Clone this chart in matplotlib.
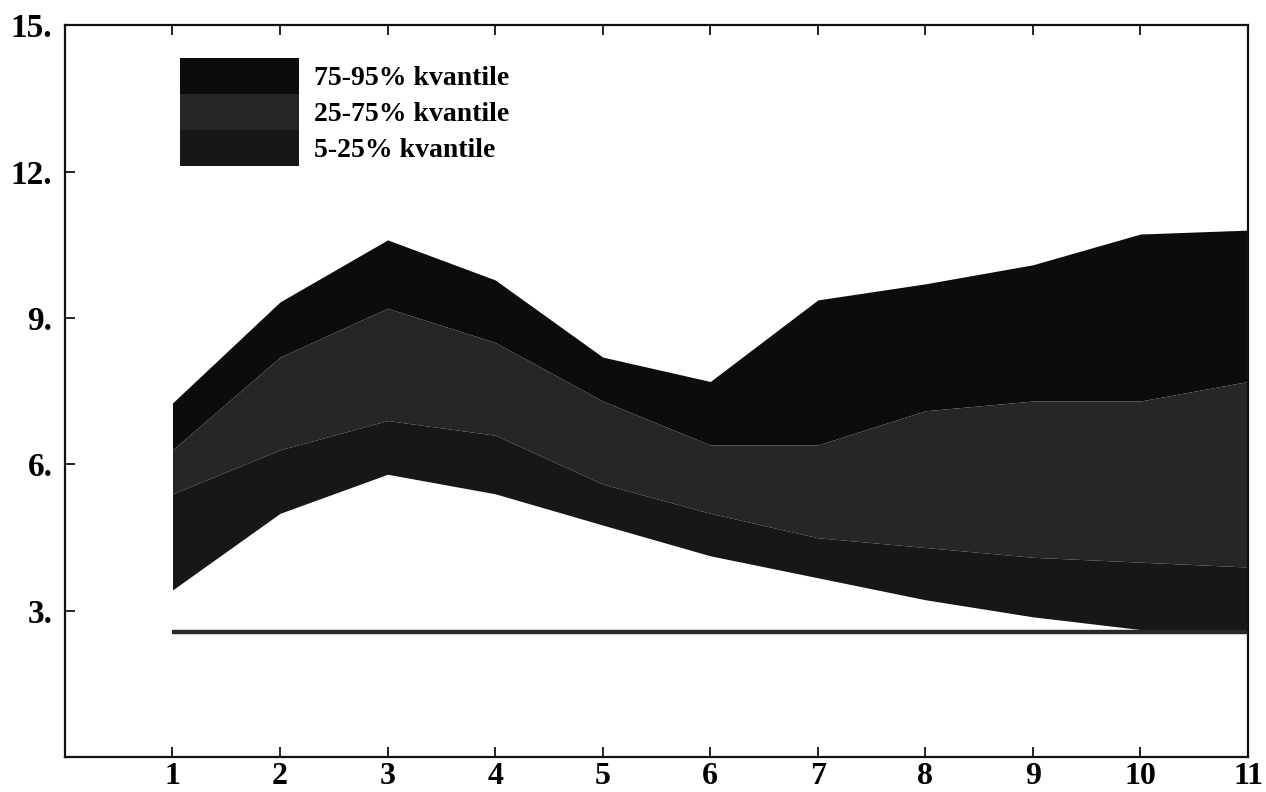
import matplotlib
matplotlib.use("Agg")
import matplotlib.pyplot as plt
from matplotlib.patches import Patch

# Data
periods = [1, 2, 3, 4, 5, 6, 7, 8, 9, 10, 11]
q05 = [3.43, 5.00, 5.80, 5.40, 4.76, 4.13, 3.68, 3.23, 2.88, 2.62, 2.62]
q25 = [5.40, 6.30, 6.90, 6.60, 5.60, 5.00, 4.50, 4.30, 4.10, 4.00, 3.90]
q75 = [6.30, 8.20, 9.20, 8.50, 7.30, 6.40, 6.40, 7.10, 7.30, 7.30, 7.70]
q95 = [7.26, 9.33, 10.60, 9.78, 8.20, 7.70, 9.37, 9.70, 10.09, 10.72, 10.80]
ref_line = [2.57, 2.57, 2.57, 2.57, 2.57, 2.57, 2.57, 2.57, 2.57, 2.57, 2.57]
band_labels = ["75-95% kvantile", "25-75% kvantile", "5-25% kvantile"]
yticks = [3, 6, 9, 12, 15]
ytick_labels = ["3.", "6.", "9.", "12.", "15."]
xticks = periods
xtick_labels = [str(p) for p in periods]

c_upper = "#0c0c0c"
c_mid = "#262626"
c_lower = "#171717"

fig = plt.figure(figsize=(12.66, 7.92), dpi=100)
ax = fig.add_axes([0.0513, 0.0436, 0.9345, 0.9248])

ax.fill_between(periods, q75, q95, color=c_upper, lw=0)
ax.fill_between(periods, q25, q75, color=c_mid, lw=0)
ax.fill_between(periods, q05, q25, color=c_lower, lw=0)
ax.plot(periods, ref_line, color="#2a2a2a", lw=3.2, solid_capstyle="butt")

ax.set_xlim(0, 11)
ax.set_ylim(0, 15)
ax.set_xticks(xticks)
ax.set_xticklabels(xtick_labels)
ax.set_yticks(yticks)
ax.set_yticklabels(ytick_labels)

serif = ["Liberation Serif", "DejaVu Serif"]
for lab in ax.get_xticklabels():
    lab.set_fontfamily(serif)
    lab.set_fontweight("bold")
    lab.set_fontsize(23)
for lab in ax.get_yticklabels():
    lab.set_fontfamily(serif)
    lab.set_fontweight("bold")
    lab.set_fontsize(24)

ax.tick_params(axis="x", direction="in", length=7, width=1.2, top=True, pad=3)
ax.tick_params(axis="y", direction="in", length=7, width=1.2, pad=9)
for s in ax.spines.values():
    s.set_linewidth(1.6)
    s.set_color("#111111")

handles = [Patch(facecolor=c_upper, edgecolor="none"),
           Patch(facecolor=c_mid, edgecolor="none"),
           Patch(facecolor=c_lower, edgecolor="none")]
leg = ax.legend(handles, band_labels, loc="upper left",
                bbox_to_anchor=(0.097, 0.955), frameon=False,
                handlelength=4.3, handleheight=1.62, labelspacing=0.0,
                handletextpad=0.55, borderpad=0, borderaxespad=0,
                prop={"family": serif, "weight": "bold", "size": 20})

fig.savefig("out.png", dpi=100)
